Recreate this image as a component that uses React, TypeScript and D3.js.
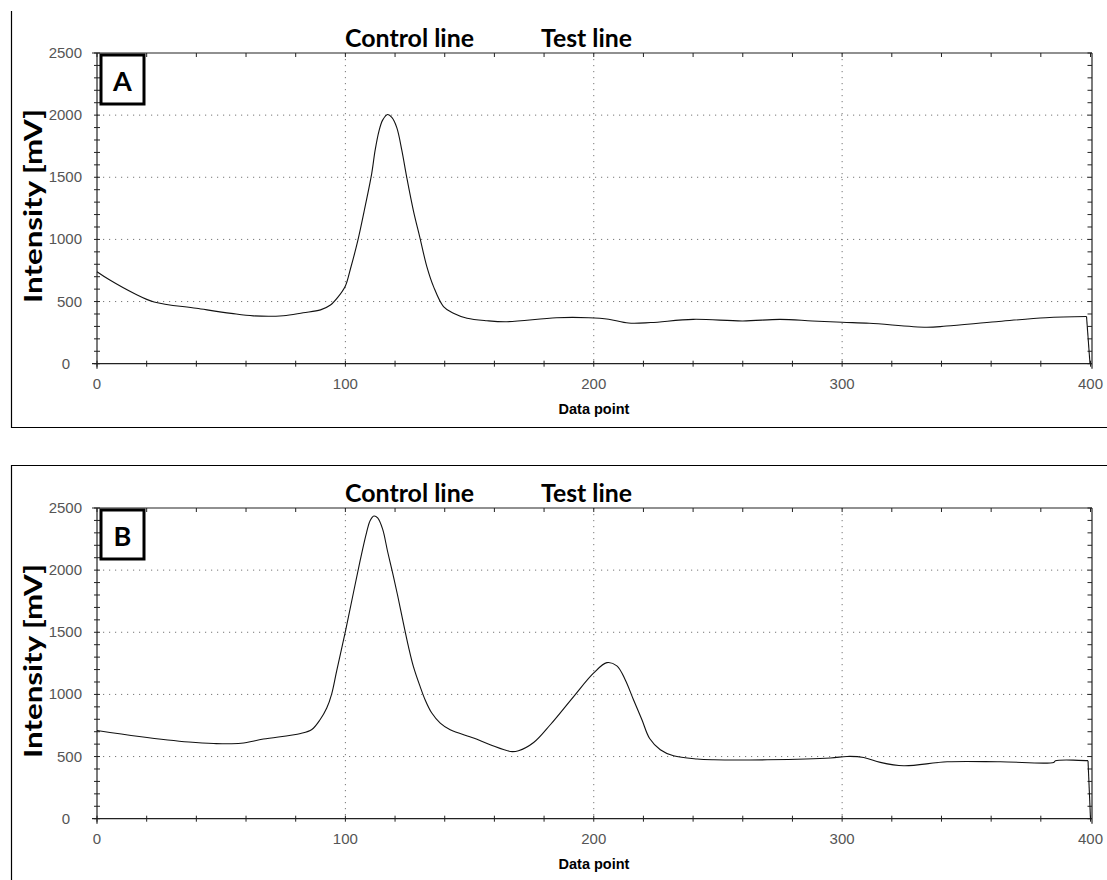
import React from "react";
import * as d3 from "d3";

// Panel A: strip with control line only
const seriesAX = [0, 5, 15, 23, 40, 54, 63, 75, 83, 90, 94, 97, 100, 102, 105, 108, 110.6, 112, 113.5, 115, 117, 118.7, 120.7, 122.7, 124.7, 127.4, 130, 132.8, 135.5, 139.5, 143.5, 149, 157, 165, 185, 198, 206, 214, 223, 240, 260, 275, 288, 300, 311, 334, 342, 362, 382, 398.4, 399.8];
const seriesAY = [740, 675, 565, 497, 446, 405, 385, 386, 410, 433, 472, 535, 625, 760, 990, 1270, 1530, 1720, 1870, 1960, 2005, 1982, 1900, 1720, 1500, 1230, 1015, 781, 620, 460, 406, 366, 346, 338, 370, 370, 358, 327, 331, 357, 344, 357, 344, 333, 325, 293, 303, 338, 370, 380, 0];

// Panel B: strip with control and test line
const seriesBX = [0, 17, 37, 47, 58, 67, 82, 86.5, 89.8, 92.5, 94.5, 96.5, 100, 103.2, 106, 108.5, 110, 111.5, 113, 115, 117, 119, 121, 123.4, 125.4, 127.4, 130.1, 132.1, 134.8, 138.2, 142.2, 151.6, 158.3, 166.4, 169.7, 175.8, 182.5, 191.9, 199.9, 205.3, 209.3, 212.7, 216, 219.4, 222.5, 226.8, 232.1, 241.6, 248.3, 269.8, 295.3, 302, 308.7, 315.4, 324.8, 342.3, 363.7, 385.2, 385.9, 399, 400];
const seriesBY = [710, 662, 617, 605, 607, 641, 686, 718, 796, 890, 1005, 1190, 1506, 1814, 2082, 2300, 2400, 2435, 2420, 2330, 2150, 1980, 1800, 1570, 1385, 1224, 1063, 957, 850, 769, 715, 649, 595, 541, 547, 613, 756, 983, 1171, 1256, 1230, 1117, 957, 796, 645, 555, 506, 480, 474, 474, 488, 501, 493, 453, 426, 458, 458, 453, 466, 467, 0];

const xTicks = [0, 100, 200, 300, 400];
const yTicks = [0, 500, 1000, 1500, 2000, 2500];
const panelLetters = ["A", "B"];
const markerLabels = ["Control line", "Test line"];
const xTitle = "Data point";
const yTitle = "Intensity [mV]";

const W = 1107;
const H = 880;

const boldFont = "Lato, 'Open Sans', sans-serif";
const tickFont = "'Liberation Sans', Arial, sans-serif";

function Panel({ offsetY, xs, ys, letter, frame }: { offsetY: number; xs: number[]; ys: number[]; letter: string; frame: "A" | "B" }) {
  const left = 97;
  const right = 1090.5;
  const top = 53 + offsetY;
  const bottom = 363.7 + offsetY;

  const x = d3.scaleLinear().domain([0, 400]).range([left, right]);
  const y = d3.scaleLinear().domain([0, 2500]).range([bottom, top]);

  const pts: [number, number][] = xs.map((v, i) => [v, ys[i]]);
  // smooth trace over the scan, straight drop where the reader stops
  const smooth = d3
    .line<[number, number]>()
    .x((d) => x(d[0]))
    .y((d) => y(d[1]))
    .curve(d3.curveCatmullRom.alpha(0.5));
  const straight = d3
    .line<[number, number]>()
    .x((d) => x(d[0]))
    .y((d) => y(d[1]));
  const body = pts.slice(0, -1);
  const tail = pts.slice(-2);

  const minorX = d3.range(0, 401, 20);
  const minorY = d3.range(0, 2501, 100);
  const axisColor = "#222";

  return (
    <g>
      {/* outer frame of the panel */}
      {frame === "A" ? (
        <path d={`M11.5,11 V427.5 H${W}`} fill="none" stroke="#000" strokeWidth={1.2} />
      ) : (
        <path d={`M${W},465.5 H11.5 V${H}`} fill="none" stroke="#000" strokeWidth={1.2} />
      )}

      {/* dotted grid */}
      {yTicks.filter((t) => t > 0 && t < 2500).map((t) => (
        <line key={"gy" + t} x1={left} x2={right} y1={y(t)} y2={y(t)} stroke="#777" strokeWidth={1} strokeDasharray="1.2,4.8" />
      ))}
      {xTicks.filter((t) => t > 0 && t < 400).map((t) => (
        <line key={"gx" + t} x1={x(t)} x2={x(t)} y1={top} y2={bottom} stroke="#777" strokeWidth={1} strokeDasharray="1.2,4.8" />
      ))}

      {/* axes box */}
      <line x1={left - 5} x2={right + 1.5} y1={bottom} y2={bottom} stroke={axisColor} strokeWidth={1.2} />
      <line x1={left - 5} x2={right + 1.5} y1={top} y2={top} stroke={axisColor} strokeWidth={1.2} />
      <line x1={left} x2={left} y1={top} y2={bottom + 5} stroke={axisColor} strokeWidth={1.2} />
      <line x1={right + 1.5} x2={right + 1.5} y1={top} y2={bottom + 5} stroke={axisColor} strokeWidth={1.2} />

      {/* minor ticks */}
      {minorX.map((t) => (
        <g key={"mx" + t}>
          <line x1={x(t)} x2={x(t)} y1={bottom - 3} y2={bottom + 3} stroke={axisColor} strokeWidth={1} />
          <line x1={x(t)} x2={x(t)} y1={top} y2={top + 4} stroke={axisColor} strokeWidth={1} />
        </g>
      ))}
      {minorY.map((t) => (
        <g key={"my" + t}>
          <line x1={left - 3} x2={left + 3} y1={y(t)} y2={y(t)} stroke={axisColor} strokeWidth={1} />
          <line x1={right - 3} x2={right + 1.5} y1={y(t)} y2={y(t)} stroke={axisColor} strokeWidth={1} />
        </g>
      ))}

      {/* tick labels */}
      {yTicks.map((t) => (
        <text key={"ly" + t} x={t === 0 ? 70 : 82} y={y(t) + 5} textAnchor="end" fontFamily={tickFont} fontSize={15} fill="#555">
          {t}
        </text>
      ))}
      {xTicks.map((t) => (
        <text key={"lx" + t} x={x(t)} y={bottom + 25} textAnchor="middle" fontFamily={tickFont} fontSize={15} fill="#555">
          {t}
        </text>
      ))}

      {/* axis titles */}
      <text x={594} y={414 + offsetY} textAnchor="middle" fontFamily={tickFont} fontWeight="bold" fontSize={14.5} fill="#000">
        {xTitle}
      </text>
      <text
        transform={`translate(42,${206 + offsetY}) rotate(-90)`}
        textAnchor="middle"
        fontFamily={boldFont}
        fontWeight="bold"
        fontSize={24}
        textLength={194}
        lengthAdjust="spacingAndGlyphs"
        fill="#000"
      >
        {yTitle}
      </text>

      {/* line markers above the plot */}
      <text x={345} y={46.5 + offsetY} fontFamily={boldFont} fontWeight="bold" fontSize={25} textLength={129} lengthAdjust="spacingAndGlyphs" fill="#000">
        {markerLabels[0]}
      </text>
      <text x={541} y={46.5 + offsetY} fontFamily={boldFont} fontWeight="bold" fontSize={25} textLength={91} lengthAdjust="spacingAndGlyphs" fill="#000">
        {markerLabels[1]}
      </text>

      {/* intensity profile */}
      <path d={smooth(body) ?? ""} fill="none" stroke="#111" strokeWidth={1.1} />
      <path d={straight(tail) ?? ""} fill="none" stroke="#111" strokeWidth={1.1} />

      {/* panel letter */}
      <rect x={101} y={top + 2} width={43} height={49} fill="#fff" stroke="#000" strokeWidth={3} />
      <text x={122.5} y={top + 38} textAnchor="middle" fontFamily={boldFont} fontWeight="bold" fontSize={27} fill="#000">
        {letter}
      </text>
    </g>
  );
}

export default function App() {
  return (
    <svg width={W} height={H} style={{ position: "absolute", left: 0, top: 0, background: "#fff" }}>
      <rect x={0} y={0} width={W} height={H} fill="#fff" />
      <Panel offsetY={0} xs={seriesAX} ys={seriesAY} letter={panelLetters[0]} frame="A" />
      <Panel offsetY={455} xs={seriesBX} ys={seriesBY} letter={panelLetters[1]} frame="B" />
    </svg>
  );
}
